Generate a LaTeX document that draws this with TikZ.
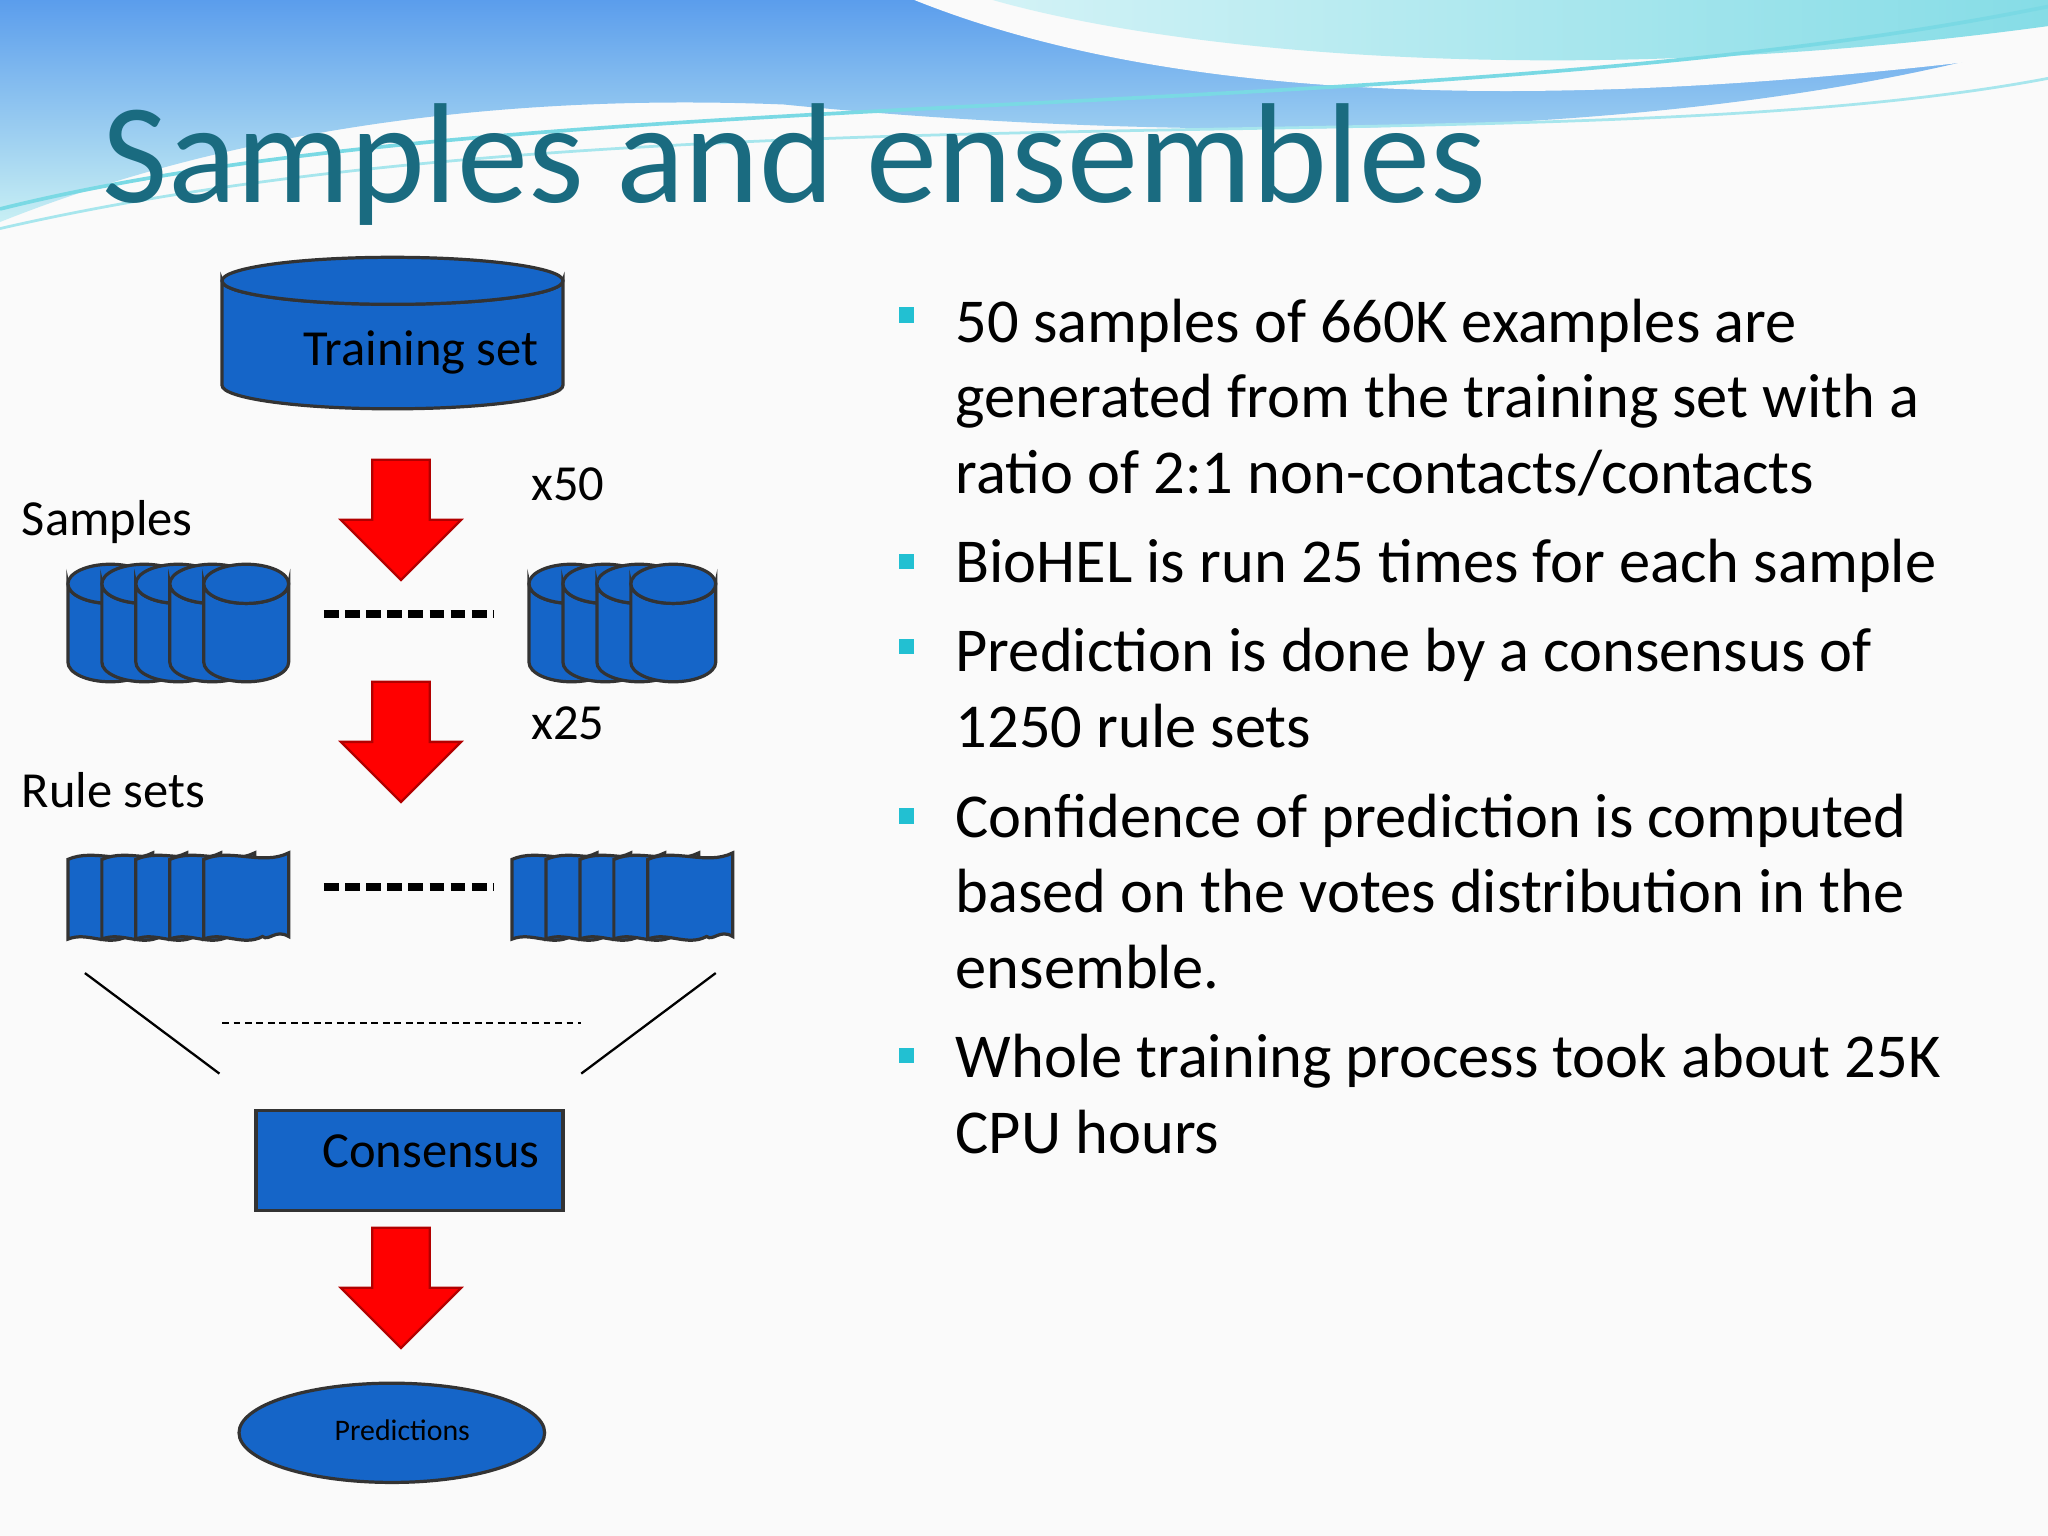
\documentclass[tikz,border=0pt]{standalone}
\usepackage{fontspec}
\setmainfont{Carlito}
\usetikzlibrary{shapes.geometric}
\definecolor{boxblue}{HTML}{1565C8}
\definecolor{titlec}{HTML}{1A6B80}
\definecolor{bul}{HTML}{22C0D2}
\tikzset{
 cyl/.style={draw=black!80, fill=boxblue, line width=0.7pt},
 redarrow/.style={fill=red, draw=red!70!black, line width=0.5pt},
 txt/.style={font=\fontsize{13.6pt}{16.5pt}\selectfont, anchor=north west, align=left, inner sep=0pt},
 lbl/.style={font=\fontsize{11pt}{13pt}\selectfont, inner sep=0pt}
}
\newcommand{\cylat}[5]{% x left, y top, width, height, ry
 \draw[cyl] (#1,#2) -- (#1,#2+#4) arc[start angle=180,end angle=0,x radius=#3/2,y radius=#5] -- (#1+#3,#2) arc[start angle=0,end angle=180,x radius=#3/2,y radius=#5] -- cycle;
 \draw[cyl] (#1+#3/2,#2) ellipse[x radius=#3/2,y radius=#5];}
\newcommand{\scrollat}[2]{% x left, y top
 \draw[cyl] (#1,#2+3) .. controls (#1+20,#2-6) and (#1+45,#2+8) .. (#1+65,#2-2) -- (#1+65,#2+62) .. controls (#1+55,#2+56) and (#1+50,#2+66) .. (#1+45,#2+62) .. controls (#1+30,#2+70) and (#1+15,#2+58) .. (#1,#2+64) -- cycle;}
\newcommand{\arrowat}[2]{% center x, top y
 \draw[redarrow] (#1-22,#2) -- (#1+22,#2) -- (#1+22,#2+46) -- (#1+46,#2+46) -- (#1,#2+92) -- (#1-46,#2+46) -- (#1-22,#2+46) -- cycle;}
\begin{document}
\begin{tikzpicture}[x=0.01cm,y=-0.01cm]
\useasboundingbox (0,0) rectangle (1568,1176);
\fill[white!96!gray] (0,0) rectangle (1568,1176);
% top waves
\shade[top color=bul!60!blue!70, bottom color=bul!25] (0,0) -- (1568,0) -- (1568,30) .. controls (1300,110) and (900,110) .. (600,80) .. controls (350,70) and (150,110) .. (0,170) -- cycle;
\fill[white!96!gray] (700,0) .. controls (850,60) and (1100,100) .. (1568,40) -- (1568,0) -- cycle;
\shade[left color=bul!20, right color=bul!55] (760,0) .. controls (900,40) and (1200,70) .. (1568,20) -- (1568,0) -- cycle;
\draw[bul!60, line width=0.8pt] (0,160) .. controls (400,60) and (1100,100) .. (1568,5);
\draw[bul!40, line width=0.6pt] (0,175) .. controls (500,60) and (1200,130) .. (1568,60);
\node[font=\fontsize{31pt}{36pt}\selectfont, text=titlec, anchor=base west, inner sep=0pt] (title) at (78,155) {Samples and ensembles};
% training set
\cylat{170}{215}{261}{80}{18}
\node[lbl, anchor=base east] (train) at (413,280) {Training set};
\arrowat{307}{352}
\node[lbl, anchor=base west] (x50) at (406,383) {x50};
\node[lbl, anchor=base west] (samples) at (16,410) {Samples};
\foreach \i in {0,...,4} {\cylat{52+26*\i}{447}{65}{60}{15}}
\foreach \i in {0,...,3} {\cylat{405+26*\i}{447}{65}{60}{15}}
\draw[line width=1.6pt, dash pattern=on 3.2pt off 1.4pt] (248,470) -- (378,470);
\arrowat{307}{522}
\node[lbl, anchor=base west] (x25) at (406,566) {x25};
\node[lbl, anchor=base west] (rules) at (16,618) {Rule sets};
\foreach \i in {0,...,4} {\scrollat{52+26*\i}{655}}
\foreach \i in {0,...,4} {\scrollat{392+26*\i}{655}}
\draw[line width=1.6pt, dash pattern=on 3.2pt off 1.4pt] (248,679) -- (378,679);
\coordinate (l1) at (65,745); \coordinate (l2) at (168,822);
\coordinate (r1) at (548,745); \coordinate (r2) at (445,822);
\coordinate (d1) at (170,783); \coordinate (d2) at (445,783);
\draw[line width=0.5pt] (l1) -- (l2);
\draw[line width=0.5pt] (r1) -- (r2);
\draw[line width=0.4pt, dash pattern=on 1.5pt off 1pt] (d1) -- (d2);
\draw[cyl] (196,850) rectangle (431,927);
\node[lbl, anchor=base east] (constxt) at (414,894) {Consensus};
\arrowat{307}{940}
\draw[cyl] (300,1097) ellipse[x radius=117,y radius=38];
\node[font=\fontsize{6.5pt}{8pt}\selectfont, inner sep=0pt] (pred) at (308,1095) {Predictions};
% bullets
\foreach \y in {243,432,497,627,810} {\fill[bul] (688,\y-8) rectangle (700,\y+4);}
\node[txt] (b1) at (731,228) {50 samples of 660K examples are\\generated from the training set with a\\ratio of 2:1 non-contacts/contacts};
\node[txt] (b2) at (731,412) {BioHEL is run 25 times for each sample};
\node[txt] (b3) at (731,480) {Prediction is done by a consensus of\\1250 rule sets};
\node[txt] (b4) at (731,607) {Confidence of prediction is computed\\based on the votes distribution in the\\ensemble.};
\node[txt] (b5) at (731,791) {Whole training process took about 25K\\CPU hours};
\end{tikzpicture}
\end{document}
